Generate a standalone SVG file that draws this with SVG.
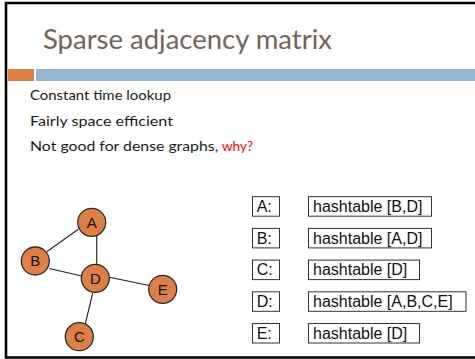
<svg xmlns="http://www.w3.org/2000/svg" width="475" height="359" viewBox="0 0 475 359">
  <style>
    .title { font-family: Lato, "Liberation Sans", sans-serif; font-size: 27px; fill: #74635A; }
    .body { font-family: Lato, "Liberation Sans", sans-serif; font-size: 13.5px; fill: #1a1a1a; }
    .red { fill: #ff0000; }
    .edge { stroke: #222; stroke-width: 1.1; fill: none; }
    .vertex circle { fill: #DD8047; stroke: #2a2a2a; stroke-width: 1.3; }
    .vertex text { font-family: "Liberation Sans", Arial, sans-serif; font-size: 15px; fill: #111; text-anchor: middle; }
    .cell rect { fill: #fff; stroke: #333; stroke-width: 1; }
    .cell text { font-family: "Liberation Sans", Arial, sans-serif; font-size: 16px; fill: #111; }
  </style>

  <rect x="0" y="0" width="475" height="359" fill="#fff"/>

  <!-- slide frame -->
  <path d="M480,3 H6 V357.5 H480" fill="none" stroke="#000" stroke-width="2.6"/>

  <!-- title and accent bars -->
  <text class="title" x="43" y="49" textLength="289" lengthAdjust="spacingAndGlyphs">Sparse adjacency matrix</text>
  <rect x="8" y="69" width="26" height="12" fill="#DD8047"/>
  <rect x="36" y="69" width="440" height="12" fill="#94B6D2"/>

  <!-- bullet lines -->
  <text class="body" x="30" y="100" textLength="141" lengthAdjust="spacingAndGlyphs">Constant time lookup</text>
  <text class="body" x="30" y="126" textLength="143" lengthAdjust="spacingAndGlyphs">Fairly space efficient</text>
  <text class="body" x="30" y="151"><tspan textLength="192" lengthAdjust="spacingAndGlyphs">Not good for dense graphs, </tspan><tspan class="red">why?</tspan></text>

  <!-- graph connectors -->
  <g id="edges">
    <line class="edge" x1="46.7" y1="251.7" x2="78.3" y2="229.3"/>
    <line class="edge" x1="96.7" y1="236" x2="96.7" y2="264.5"/>
    <line class="edge" x1="49.3" y1="268.5" x2="81.7" y2="276"/>
    <line class="edge" x1="109.3" y1="277.3" x2="149.3" y2="285.5"/>
    <line class="edge" x1="92.7" y1="293" x2="85.3" y2="324"/>
  </g>

  <!-- graph vertices -->
  <g id="node-A" class="vertex"><circle cx="91.7" cy="222.3" r="14"/><text x="91.7" y="227.5">A</text></g>
  <g id="node-B" class="vertex"><circle cx="35.3" cy="261" r="14"/><text x="35.3" y="266.3">B</text></g>
  <g id="node-D" class="vertex"><circle cx="95.3" cy="278.3" r="14"/><text x="95.3" y="283.6">D</text></g>
  <g id="node-E" class="vertex"><circle cx="162.7" cy="289.3" r="14"/><text x="162.7" y="294.6">E</text></g>
  <g id="node-C" class="vertex"><circle cx="79.3" cy="336.7" r="14"/><text x="79.3" y="342">C</text></g>

  <!-- adjacency table -->
  <g id="row-A" class="cell">
    <rect x="252.5" y="196.7" width="27" height="19.5"/><text x="256.7" y="212">A:</text>
    <rect x="308.5" y="196.7" width="123" height="19.5"/><text x="313" y="212">hashtable [B,D]</text>
  </g>
  <g id="row-B" class="cell">
    <rect x="252.5" y="228.4" width="27" height="19.5"/><text x="256.7" y="243.7">B:</text>
    <rect x="308.5" y="228.4" width="123" height="19.5"/><text x="313" y="243.7">hashtable [A,D]</text>
  </g>
  <g id="row-C" class="cell">
    <rect x="252.5" y="260.1" width="27" height="19.5"/><text x="256.7" y="275.4">C:</text>
    <rect x="308.5" y="260.1" width="111" height="19.5"/><text x="313" y="275.4">hashtable [D]</text>
  </g>
  <g id="row-D" class="cell">
    <rect x="252.5" y="291.8" width="27" height="19.5"/><text x="256.7" y="307.1">D:</text>
    <rect x="308.5" y="291.8" width="157.5" height="19.5"/><text x="313" y="307.1">hashtable [A,B,C,E]</text>
  </g>
  <g id="row-E" class="cell">
    <rect x="252.5" y="323.5" width="27" height="19.5"/><text x="256.7" y="338.8">E:</text>
    <rect x="308.5" y="323.5" width="111" height="19.5"/><text x="313" y="338.8">hashtable [D]</text>
  </g>
</svg>
